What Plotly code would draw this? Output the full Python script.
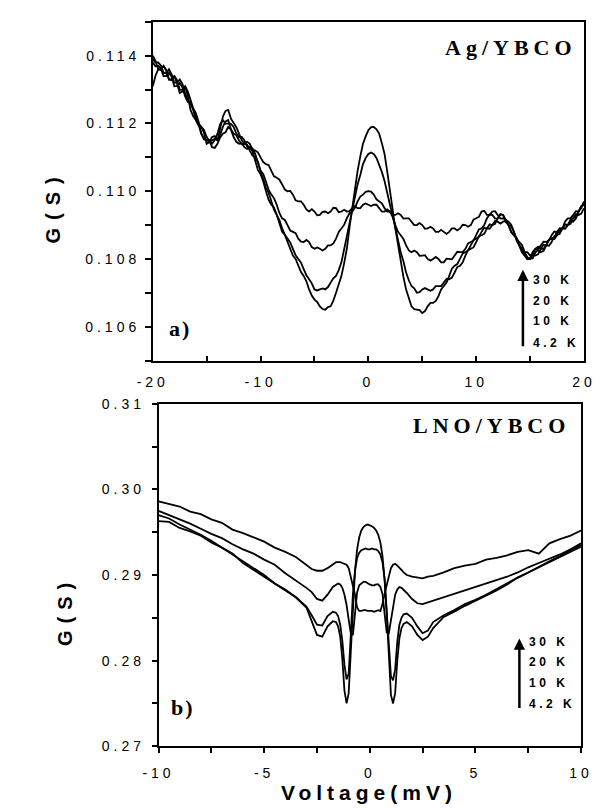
import plotly.graph_objects as go

# ---------------- data: panel a) Ag/YBCO (bias voltage in mV, conductance in S) ----------------
V_TOP = [-20.0, -19.75, -19.5, -19.25, -19.0, -18.75, -18.5, -18.25, -18.0, -17.75,
         -17.5, -17.25, -17.0, -16.75, -16.5, -16.25, -16.0, -15.75, -15.5, -15.25,
         -15.0, -14.75, -14.5, -14.25, -14.0, -13.75, -13.5, -13.25, -13.0, -12.75,
         -12.5, -12.25, -12.0, -11.75, -11.5, -11.25, -11.0, -10.75, -10.5, -10.25,
         -10.0, -9.75, -9.5, -9.25, -9.0, -8.75, -8.5, -8.25, -8.0, -7.75,
         -7.5, -7.25, -7.0, -6.75, -6.5, -6.25, -6.0, -5.75, -5.5, -5.25,
         -5.0, -4.75, -4.5, -4.25, -4.0, -3.75, -3.5, -3.25, -3.0, -2.75,
         -2.5, -2.25, -2.0, -1.75, -1.5, -1.25, -1.0, -0.75, -0.5, -0.25,
         0.0, 0.25, 0.5, 0.75, 1.0, 1.25, 1.5, 1.75, 2.0, 2.25,
         2.5, 2.75, 3.0, 3.25, 3.5, 3.75, 4.0, 4.25, 4.5, 4.75,
         5.0, 5.25, 5.5, 5.75, 6.0, 6.25, 6.5, 6.75, 7.0, 7.25,
         7.5, 7.75, 8.0, 8.25, 8.5, 8.75, 9.0, 9.25, 9.5, 9.75,
         10.0, 10.25, 10.5, 10.75, 11.0, 11.25, 11.5, 11.75, 12.0, 12.25,
         12.5, 12.75, 13.0, 13.25, 13.5, 13.75, 14.0, 14.25, 14.5, 14.75,
         15.0, 15.25, 15.5, 15.75, 16.0, 16.25, 16.5, 16.75, 17.0, 17.25,
         17.5, 17.75, 18.0, 18.25, 18.5, 18.75, 19.0, 19.25, 19.5, 19.75,
         20.0]

G_TOP_4K2 = [0.11310, 0.11341, 0.11360, 0.11360, 0.11370, 0.11358, 0.11330, 0.11328, 0.11340, 0.11319,
             0.11290, 0.11294, 0.11310, 0.11282, 0.11240, 0.11221, 0.11210, 0.11196, 0.11170, 0.11155,
             0.11150, 0.11148, 0.11130, 0.11128, 0.11140, 0.11159, 0.11170, 0.11174, 0.11190, 0.11182,
             0.11160, 0.11146, 0.11140, 0.11141, 0.11130, 0.11125, 0.11130, 0.11118, 0.11090, 0.11063,
             0.11050, 0.11029, 0.11000, 0.10974, 0.10960, 0.10952, 0.10930, 0.10901, 0.10880, 0.10871,
             0.10850, 0.10825, 0.10810, 0.10800, 0.10780, 0.10761, 0.10750, 0.10734, 0.10710, 0.10692,
             0.10680, 0.10673, 0.10660, 0.10652, 0.10650, 0.10658, 0.10660, 0.10677, 0.10700, 0.10728,
             0.10750, 0.10787, 0.10830, 0.10893, 0.10950, 0.11002, 0.11060, 0.11103, 0.11140, 0.11162,
             0.11180, 0.11189, 0.11190, 0.11183, 0.11170, 0.11142, 0.11110, 0.11058, 0.11000, 0.10942,
             0.10890, 0.10843, 0.10790, 0.10747, 0.10710, 0.10688, 0.10660, 0.10652, 0.10650, 0.10649,
             0.10640, 0.10646, 0.10660, 0.10670, 0.10670, 0.10676, 0.10690, 0.10710, 0.10720, 0.10730,
             0.10750, 0.10771, 0.10780, 0.10785, 0.10800, 0.10816, 0.10820, 0.10825, 0.10840, 0.10856,
             0.10860, 0.10865, 0.10880, 0.10892, 0.10890, 0.10889, 0.10900, 0.10912, 0.10910, 0.10904,
             0.10910, 0.10912, 0.10900, 0.10879, 0.10870, 0.10862, 0.10840, 0.10819, 0.10810, 0.10800,
             0.10800, 0.10802, 0.10820, 0.10826, 0.10820, 0.10824, 0.10840, 0.10857, 0.10860, 0.10859,
             0.10870, 0.10887, 0.10890, 0.10889, 0.10900, 0.10912, 0.10910, 0.10919, 0.10940, 0.10956,
             0.10960]

G_TOP_10K = [0.11380, 0.11369, 0.11370, 0.11362, 0.11340, 0.11340, 0.11350, 0.11338, 0.11310, 0.11311,
             0.11320, 0.11306, 0.11280, 0.11263, 0.11260, 0.11240, 0.11210, 0.11194, 0.11190, 0.11172,
             0.11140, 0.11145, 0.11160, 0.11163, 0.11150, 0.11166, 0.11190, 0.11206, 0.11210, 0.11183,
             0.11170, 0.11165, 0.11150, 0.11139, 0.11140, 0.11137, 0.11120, 0.11105, 0.11100, 0.11086,
             0.11060, 0.11031, 0.11010, 0.10995, 0.10970, 0.10945, 0.10930, 0.10915, 0.10890, 0.10871,
             0.10860, 0.10849, 0.10830, 0.10811, 0.10800, 0.10789, 0.10770, 0.10752, 0.10740, 0.10728,
             0.10710, 0.10707, 0.10710, 0.10713, 0.10710, 0.10717, 0.10730, 0.10743, 0.10750, 0.10767,
             0.10790, 0.10828, 0.10860, 0.10897, 0.10940, 0.10983, 0.11020, 0.11048, 0.11080, 0.11098,
             0.11110, 0.11114, 0.11110, 0.11098, 0.11080, 0.11057, 0.11030, 0.10992, 0.10960, 0.10928,
             0.10890, 0.10852, 0.10820, 0.10793, 0.10760, 0.10737, 0.10720, 0.10713, 0.10700, 0.10702,
             0.10710, 0.10714, 0.10710, 0.10706, 0.10710, 0.10720, 0.10720, 0.10720, 0.10730, 0.10741,
             0.10740, 0.10745, 0.10760, 0.10776, 0.10780, 0.10790, 0.10810, 0.10826, 0.10830, 0.10834,
             0.10850, 0.10867, 0.10870, 0.10874, 0.10890, 0.10902, 0.10900, 0.10904, 0.10920, 0.10932,
             0.10930, 0.10909, 0.10900, 0.10897, 0.10880, 0.10854, 0.10840, 0.10831, 0.10810, 0.10799,
             0.10800, 0.10812, 0.10810, 0.10814, 0.10830, 0.10842, 0.10840, 0.10839, 0.10850, 0.10867,
             0.10870, 0.10874, 0.10890, 0.10902, 0.10900, 0.10904, 0.10920, 0.10932, 0.10930, 0.10934,
             0.10950]

G_TOP_20K = [0.11400, 0.11385, 0.11360, 0.11358, 0.11370, 0.11356, 0.11330, 0.11331, 0.11340, 0.11328,
             0.11300, 0.11299, 0.11310, 0.11294, 0.11270, 0.11245, 0.11230, 0.11205, 0.11170, 0.11153,
             0.11150, 0.11151, 0.11140, 0.11151, 0.11170, 0.11198, 0.11210, 0.11199, 0.11200, 0.11199,
             0.11190, 0.11170, 0.11160, 0.11160, 0.11150, 0.11133, 0.11130, 0.11126, 0.11110, 0.11081,
             0.11060, 0.11051, 0.11030, 0.11004, 0.10990, 0.10979, 0.10960, 0.10935, 0.10920, 0.10915,
             0.10900, 0.10884, 0.10880, 0.10876, 0.10860, 0.10851, 0.10850, 0.10856, 0.10850, 0.10835,
             0.10830, 0.10834, 0.10830, 0.10825, 0.10830, 0.10840, 0.10840, 0.10846, 0.10860, 0.10880,
             0.10890, 0.10901, 0.10920, 0.10935, 0.10940, 0.10951, 0.10970, 0.10984, 0.10990, 0.10998,
             0.11000, 0.10999, 0.10990, 0.10976, 0.10970, 0.10964, 0.10950, 0.10940, 0.10940, 0.10924,
             0.10900, 0.10880, 0.10870, 0.10859, 0.10840, 0.10825, 0.10820, 0.10825, 0.10820, 0.10809,
             0.10810, 0.10811, 0.10800, 0.10795, 0.10800, 0.10806, 0.10800, 0.10790, 0.10790, 0.10801,
             0.10800, 0.10799, 0.10810, 0.10821, 0.10820, 0.10820, 0.10830, 0.10846, 0.10850, 0.10854,
             0.10870, 0.10887, 0.10890, 0.10900, 0.10920, 0.10931, 0.10930, 0.10919, 0.10920, 0.10932,
             0.10930, 0.10915, 0.10910, 0.10901, 0.10880, 0.10859, 0.10850, 0.10841, 0.10820, 0.10805,
             0.10800, 0.10821, 0.10830, 0.10829, 0.10840, 0.10851, 0.10850, 0.10855, 0.10870, 0.10881,
             0.10880, 0.10879, 0.10890, 0.10911, 0.10920, 0.10920, 0.10930, 0.10941, 0.10940, 0.10950,
             0.10970]

G_TOP_30K = [0.11390, 0.11380, 0.11380, 0.11371, 0.11350, 0.11348, 0.11360, 0.11345, 0.11320, 0.11321,
             0.11330, 0.11317, 0.11290, 0.11269, 0.11260, 0.11244, 0.11220, 0.11200, 0.11190, 0.11181,
             0.11160, 0.11148, 0.11150, 0.11155, 0.11150, 0.11181, 0.11220, 0.11237, 0.11240, 0.11214,
             0.11200, 0.11189, 0.11170, 0.11150, 0.11140, 0.11146, 0.11140, 0.11123, 0.11120, 0.11115,
             0.11100, 0.11086, 0.11080, 0.11077, 0.11060, 0.11044, 0.11040, 0.11034, 0.11020, 0.11005,
             0.11000, 0.11001, 0.10990, 0.10973, 0.10970, 0.10970, 0.10960, 0.10946, 0.10940, 0.10947,
             0.10940, 0.10929, 0.10930, 0.10939, 0.10940, 0.10935, 0.10940, 0.10951, 0.10950, 0.10938,
             0.10940, 0.10945, 0.10940, 0.10941, 0.10950, 0.10956, 0.10950, 0.10950, 0.10960, 0.10964,
             0.10960, 0.10956, 0.10960, 0.10960, 0.10950, 0.10940, 0.10940, 0.10946, 0.10940, 0.10929,
             0.10930, 0.10935, 0.10930, 0.10919, 0.10920, 0.10920, 0.10910, 0.10900, 0.10900, 0.10906,
             0.10900, 0.10889, 0.10890, 0.10895, 0.10890, 0.10880, 0.10880, 0.10886, 0.10880, 0.10874,
             0.10880, 0.10890, 0.10890, 0.10884, 0.10890, 0.10901, 0.10900, 0.10895, 0.10900, 0.10916,
             0.10920, 0.10924, 0.10940, 0.10942, 0.10930, 0.10930, 0.10940, 0.10941, 0.10930, 0.10919,
             0.10920, 0.10916, 0.10900, 0.10880, 0.10870, 0.10861, 0.10840, 0.10824, 0.10820, 0.10820,
             0.10810, 0.10814, 0.10830, 0.10836, 0.10830, 0.10830, 0.10840, 0.10856, 0.10860, 0.10864,
             0.10880, 0.10891, 0.10890, 0.10890, 0.10900, 0.10916, 0.10920, 0.10924, 0.10940, 0.10955,
             0.10960]

# ---------------- data: panel b) LNO/YBCO ----------------
V_BOT = [-10.0, -9.5, -9.0, -8.5, -8.0, -7.5, -7.0, -6.5, -6.0, -5.5, -5.0, -4.5, -4.0, -3.5, -3.0,
         -2.75, -2.5, -2.25, -2.0, -1.75,
         -1.6, -1.5, -1.4, -1.3, -1.2, -1.1, -1.0, -0.9, -0.8, -0.7, -0.6, -0.5, -0.4, -0.3, -0.2, -0.1,
         0.0, 0.1, 0.2, 0.3, 0.4, 0.5, 0.6, 0.7, 0.8, 0.9, 1.0, 1.1, 1.2, 1.3, 1.4, 1.5, 1.6,
         1.75, 2.0, 2.25, 2.5, 2.75,
         3.0, 3.5, 4.0, 4.5, 5.0, 5.5, 6.0, 6.5, 7.0, 7.5, 8.0, 8.5, 9.0, 9.5, 10.0]

G_BOT_4K2 = [0.2963, 0.2962, 0.2955, 0.2951, 0.2946, 0.2938, 0.2932, 0.2925, 0.2914, 0.2906, 0.2899, 0.2891, 0.2882, 0.2874, 0.2862,
             0.2845, 0.2830, 0.2828, 0.2840, 0.2846,
             0.2845, 0.2840, 0.2828, 0.2802, 0.2765, 0.2750, 0.2762, 0.2810, 0.2865, 0.2905, 0.2930, 0.2944, 0.2952, 0.2956, 0.2958, 0.2959,
             0.2958, 0.2957, 0.2955, 0.2952, 0.2947, 0.2938, 0.2922, 0.2895, 0.2855, 0.2800, 0.2760, 0.2750, 0.2762, 0.2800, 0.2826, 0.2838, 0.2843,
             0.2845, 0.2840, 0.2830, 0.2824, 0.2828,
             0.2838, 0.2851, 0.2857, 0.2864, 0.2870, 0.2876, 0.2882, 0.2889, 0.2897, 0.2903, 0.2909, 0.2915, 0.2921, 0.2927, 0.2933]

G_BOT_10K = [0.2970, 0.2966, 0.2959, 0.2953, 0.2947, 0.2940, 0.2932, 0.2924, 0.2916, 0.2907, 0.2900, 0.2890, 0.2883, 0.2874, 0.2863,
             0.2853, 0.2842, 0.2841, 0.2852, 0.2857,
             0.2856, 0.2852, 0.2842, 0.2823, 0.2795, 0.2778, 0.2785, 0.2830, 0.2878, 0.2905, 0.2920, 0.2926, 0.2929, 0.2930, 0.2931, 0.2930,
             0.2930, 0.2931, 0.2930, 0.2930, 0.2928, 0.2924, 0.2915, 0.2895, 0.2860, 0.2815, 0.2782, 0.2777, 0.2790, 0.2822, 0.2842, 0.2850, 0.2854,
             0.2855, 0.2850, 0.2840, 0.2832, 0.2835,
             0.2845, 0.2853, 0.2859, 0.2866, 0.2871, 0.2877, 0.2884, 0.2890, 0.2897, 0.2903, 0.2910, 0.2916, 0.2922, 0.2929, 0.2935]

G_BOT_20K = [0.2975, 0.2970, 0.2965, 0.2960, 0.2954, 0.2948, 0.2943, 0.2936, 0.2930, 0.2925, 0.2918, 0.2912, 0.2902, 0.2894, 0.2885,
             0.2880, 0.2872, 0.2870, 0.2877, 0.2886,
             0.2889, 0.2890, 0.2889, 0.2885, 0.2877, 0.2865, 0.2848, 0.2832, 0.2830, 0.2855, 0.2880, 0.2888, 0.2890, 0.2892, 0.2892, 0.2890,
             0.2889, 0.2888, 0.2888, 0.2889, 0.2889, 0.2886, 0.2878, 0.2855, 0.2833, 0.2832, 0.2848, 0.2865, 0.2877, 0.2883, 0.2886, 0.2885, 0.2883,
             0.2879, 0.2872, 0.2867, 0.2866, 0.2868,
             0.2870, 0.2874, 0.2878, 0.2882, 0.2886, 0.2890, 0.2894, 0.2898, 0.2903, 0.2909, 0.2914, 0.2919, 0.2924, 0.2930, 0.2937]

G_BOT_30K = [0.2986, 0.2983, 0.2980, 0.2974, 0.2971, 0.2965, 0.2961, 0.2953, 0.2949, 0.2944, 0.2939, 0.2932, 0.2927, 0.2921, 0.2912,
             0.2907, 0.2905, 0.2905, 0.2908, 0.2913,
             0.2915, 0.2915, 0.2915, 0.2914, 0.2913, 0.2912, 0.2908, 0.2898, 0.2885, 0.2877, 0.2862, 0.2858, 0.2858, 0.2859, 0.2859, 0.2858,
             0.2858, 0.2858, 0.2857, 0.2858, 0.2859, 0.2858, 0.2866, 0.2878, 0.2888, 0.2900, 0.2908, 0.2912, 0.2913, 0.2911, 0.2909, 0.2906, 0.2903,
             0.2900, 0.2898, 0.2897, 0.2896, 0.2898,
             0.2899, 0.2903, 0.2908, 0.2911, 0.2913, 0.2918, 0.2920, 0.2923, 0.2927, 0.2929, 0.2925, 0.2937, 0.2942, 0.2946, 0.2952]

for _g in (G_TOP_4K2, G_TOP_10K, G_TOP_20K, G_TOP_30K):
    assert len(_g) == len(V_TOP)
for _g in (G_BOT_4K2, G_BOT_10K, G_BOT_20K, G_BOT_30K):
    assert len(_g) == len(V_BOT)

# ---------------- ticks and labels ----------------
TOP_X_TICKS = [-20, -10, 0, 10, 20]
TOP_X_LABELS = ["-20", "-10", "0", "10", "20"]
TOP_X_MINOR = [-15, -5, 5, 15]
TOP_Y_TICKS = [0.106, 0.108, 0.110, 0.112, 0.114]
TOP_Y_LABELS = ["0.106", "0.108", "0.110", "0.112", "0.114"]
TOP_Y_MINOR = [0.105, 0.107, 0.109, 0.111, 0.113, 0.115]

BOT_X_TICKS = [-10, -5, 0, 5, 10]
BOT_X_LABELS = ["-10", "-5", "0", "5", "10"]
BOT_X_MINOR = [-7.5, -2.5, 2.5, 7.5]
BOT_Y_TICKS = [0.27, 0.28, 0.29, 0.30, 0.31]
BOT_Y_LABELS = ["0.27", "0.28", "0.29", "0.30", "0.31"]
BOT_Y_MINOR = [0.275, 0.285, 0.295, 0.305]

TEMPS = ["30 K", "20 K", "10 K", "4.2 K"]

W, H = 608, 808


def px(x):
    return x / W


def py(y):
    return 1 - y / H


def spaced(text, ls):
    return f'<span style="letter-spacing:{ls}px">{text}</span>'


fig = go.Figure()

line = dict(color="black", width=1.8)
for g in [G_TOP_4K2, G_TOP_10K, G_TOP_20K, G_TOP_30K]:
    fig.add_trace(go.Scatter(x=V_TOP, y=g, mode="lines", line=line,
                             xaxis="x", yaxis="y", showlegend=False, hoverinfo="skip"))
for g in [G_BOT_4K2, G_BOT_10K, G_BOT_20K, G_BOT_30K]:
    fig.add_trace(go.Scatter(x=V_BOT, y=g, mode="lines", line=line,
                             xaxis="x2", yaxis="y2", showlegend=False, hoverinfo="skip"))

tick_font = dict(family="Liberation Sans, Arial, sans-serif", size=14, color="black")
LS_TICK = 4


def axis(domain, rng, ticks, labels, minor, side_ticks, ticklen, standoff, anchor):
    return dict(domain=domain, range=rng, anchor=anchor,
                showline=True, mirror=True, linecolor="black", linewidth=1.5,
                showgrid=False, zeroline=False,
                ticks=side_ticks, ticklen=ticklen, tickwidth=1.5, tickcolor="black",
                tickmode="array", tickvals=ticks,
                ticktext=[spaced(t, LS_TICK) for t in labels],
                tickfont=tick_font, ticklabelstandoff=standoff,
                minor=dict(tickmode="array", tickvals=minor, ticks=side_ticks,
                           ticklen=ticklen, tickwidth=1.5, tickcolor="black"))


fig.update_layout(
    width=W, height=H,
    margin=dict(l=0, r=0, t=0, b=0),
    paper_bgcolor="white", plot_bgcolor="white",
    showlegend=False,
    xaxis=axis([px(135), px(587)], [-20, 20], TOP_X_TICKS, TOP_X_LABELS, TOP_X_MINOR,
               "inside", 5, 8, "y"),
    yaxis=axis([py(351.5), py(6)], [0.105, 0.115], TOP_Y_TICKS, TOP_Y_LABELS, TOP_Y_MINOR,
               "outside", 6, 2, "x"),
    xaxis2=axis([px(141), px(584)], [-10, 10], BOT_X_TICKS, BOT_X_LABELS, BOT_X_MINOR,
                "outside", 5, 8, "y2"),
    yaxis2=axis([py(745), py(395.6)], [0.27, 0.31], BOT_Y_TICKS, BOT_Y_LABELS, BOT_Y_MINOR,
                "outside", 5, 4, "x2"),
)

serif = "Liberation Serif, Times New Roman, serif"
sans = "Liberation Sans, Arial, sans-serif"
ann = []


def text_ann(text, x, y, family, size, xanchor="center", angle=0):
    ann.append(dict(text=text, x=px(x), y=py(y), xref="paper", yref="paper",
                    xanchor=xanchor, yanchor="middle", showarrow=False, textangle=angle,
                    font=dict(family=family, size=size, color="black")))


text_ann("<b>" + spaced("Ag/YBCO", 5) + "</b>", 582, 31.7, serif, 22, "right")
text_ann("<b>" + spaced("LNO/YBCO", 5) + "</b>", 574, 417.3, serif, 22, "right")
text_ann("<b>" + spaced("a)", 2) + "</b>", 150, 319, serif, 22, "left")
text_ann("<b>" + spaced("b)", 2) + "</b>", 152, 705, serif, 22, "left")

for t, yy in zip(TEMPS, [269.8, 290.5, 311.6, 333.3]):
    text_ann("<b>" + spaced(t, 3.5) + "</b>", 531, yy, sans, 12, "left")
for t, yy in zip(TEMPS, [639, 659, 680, 701.5]):
    text_ann("<b>" + spaced(t, 3.5) + "</b>", 527, yy, sans, 12, "left")

for xx, head, tail in [(523, 259, 337), (519.3, 635, 706)]:
    ann.append(dict(text="", x=px(xx), y=py(head), xref="paper", yref="paper",
                    ax=0, ay=tail - head, showarrow=True, arrowhead=2, arrowsize=0.9,
                    arrowwidth=2.5, arrowcolor="black"))

text_ann("<b>" + spaced("G(S)", 8) + "</b>", 30, 194.7, sans, 20, angle=-90)
text_ann("<b>" + spaced("G(S)", 7) + "</b>", 43, 607, sans, 20, angle=-90)
text_ann("<b>" + spaced("Voltage(mV)", 5) + "</b>", 362, 792, sans, 21)

fig.update_layout(annotations=ann)

fig.write_html("out.html")
